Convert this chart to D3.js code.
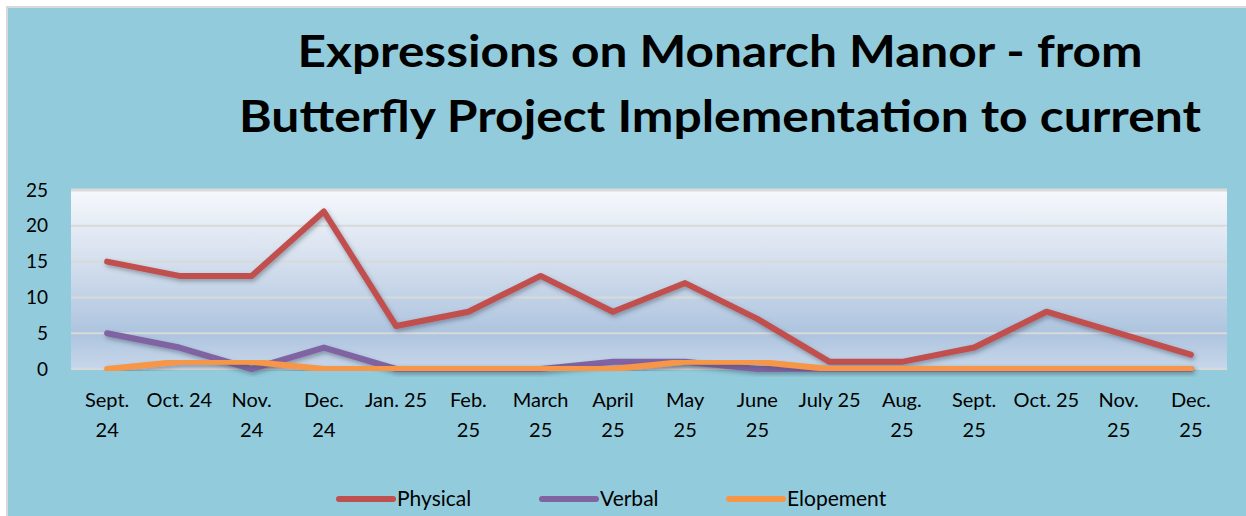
<!DOCTYPE html>
<html>
<head>
<meta charset="utf-8">
<script src="https://d3js.org/d3.v7.min.js"></script>
<style>
    body { margin: 0; background: #fff; }
    svg { display: block; }
    .tick text { font-family: Lato, "Open Sans", sans-serif; font-size: 19px; fill: #000; }
    .xlab .tick text { font-size: 20px; }
</style>
</head>
<body>
<div id="chart"></div>
<script>
// chart values
const months = ["Sept.\n24", "Oct. 24", "Nov.\n24", "Dec.\n24", "Jan. 25", "Feb.\n25", "March\n25", "April\n25",
                "May\n25", "June\n25", "July 25", "Aug.\n25", "Sept.\n25", "Oct. 25", "Nov.\n25", "Dec.\n25"]
const physical  = [15, 13, 13, 22, 6, 8, 13, 8, 12, 7, 1, 1, 3, 8, 5, 2]
const verbal    = [5, 3, 0, 3, 0, 0, 0, 1, 1, 0, 0, 0, 0, 0, 0, 0]
const elopement = [0, 1, 1, 0, 0, 0, 0, 0, 1, 1, 0, 0, 0, 0, 0, 0]
const seriesNames = ["Physical", "Verbal", "Elopement"]
const yTicks = [0, 5, 10, 15, 20, 25]
const titleLines = ["Expressions on Monarch Manor - from", "Butterfly Project Implementation to current"]

const w = 1246, h = 516
const plot = {left: 71, right: 1227, top: 190, bottom: 369}
const colours = ["#C0504D", "#8064A2", "#F79646"]
const series = [physical, verbal, elopement].map((vals, i) => ({name: seriesNames[i], vals: vals, colour: colours[i]}))

const svg = d3.select('#chart').append('svg').attr('width', w).attr('height', h)
const defs = svg.append('defs')

const grad = defs.append('linearGradient').attr('id', 'plotBg')
    .attr('x1', 0).attr('y1', 0).attr('x2', 0).attr('y2', 1)
grad.append('stop').attr('offset', '0%').attr('stop-color', '#F6F8FC')
grad.append('stop').attr('offset', '45%').attr('stop-color', '#D0DCEC')
grad.append('stop').attr('offset', '80%').attr('stop-color', '#ADC4DF')
grad.append('stop').attr('offset', '100%').attr('stop-color', '#C8D7EA')

const shadow = defs.append('filter').attr('id', 'shadow')
    .attr('x', '-5%').attr('y', '-20%').attr('width', '110%').attr('height', '140%')
shadow.append('feDropShadow').attr('dx', 1.5).attr('dy', 2.5).attr('stdDeviation', 2)
    .attr('flood-color', '#3a4a5a').attr('flood-opacity', 0.45)

// outer background
svg.append('rect').attr('x', 7).attr('y', 7).attr('width', w).attr('height', h)
    .attr('fill', '#92CCDC').attr('stroke', '#D9D9D9').attr('stroke-width', 2)

// title
svg.append('g').selectAll('text')
    .data(titleLines)
    .enter()
    .append('text')
    .attr('x', 720)
    .attr('y', (d, i) => 67 + i * 65)
    .attr('text-anchor', 'middle')
    .attr('textLength', (d, i) => i == 0 ? 845 : 962)
    .attr('lengthAdjust', 'spacingAndGlyphs')
    .style('font-family', 'Lato, "Open Sans", sans-serif')
    .style('font-weight', 'bold')
    .style('font-size', '44px')
    .text(d => d)

const xScale = d3.scaleBand().domain(months).range([plot.left, plot.right]).padding(0)
const yScale = d3.scaleLinear().domain([0, 25]).range([plot.bottom, plot.top])
const cx = d => xScale(d) + xScale.bandwidth() / 2

svg.append('rect')
    .attr('x', plot.left).attr('y', plot.top)
    .attr('width', plot.right - plot.left).attr('height', plot.bottom - plot.top)
    .attr('fill', 'url(#plotBg)')

// gridlines
svg.append('g').selectAll('line')
    .data(yTicks)
    .enter()
    .append('line')
    .attr('x1', plot.left).attr('x2', plot.right)
    .attr('y1', d => yScale(d)).attr('y2', d => yScale(d))
    .attr('stroke', '#D9D9D9')
    .attr('stroke-width', d => d == 25 ? 3 : 2)

// y axis
const yAxis = d3.axisLeft(yScale).tickValues(yTicks).tickSize(0).tickPadding(23)
svg.append('g')
    .attr('transform', 'translate(' + plot.left + ',0)')
    .call(yAxis)
    .call(g => g.select('.domain').remove())

// x axis with wrapped labels
const xAxis = d3.axisBottom(xScale).tickSize(0).tickFormat('')
const xg = svg.append('g')
    .attr('class', 'xlab')
    .attr('transform', 'translate(0,' + plot.bottom + ')')
    .call(xAxis)
xg.select('.domain').remove()
xg.selectAll('.tick text')
    .attr('y', 0).attr('dy', null)
    .each(function(d) {
        const lines = d.split('\n')
        const t = d3.select(this)
        lines.forEach((ln, i) => {
            t.append('tspan').attr('x', 0).attr('y', 38 + i * 30).text(ln)
        })
    })

// lines
const line = d3.line()
    .x((v, i) => cx(months[i]))
    .y(v => yScale(v))

svg.append('g').selectAll('path')
    .data(series)
    .enter()
    .append('path')
    .attr('d', d => line(d.vals))
    .attr('fill', 'none')
    .attr('stroke', d => d.colour)
    .attr('stroke-width', 6)
    .attr('stroke-linejoin', 'round')
    .attr('stroke-linecap', 'round')
    .attr('filter', 'url(#shadow)')

// legend
const legendX = [339, 542, 729]
const legend = svg.append('g').selectAll('g')
    .data(series)
    .enter()
    .append('g')
    .attr('transform', (d, i) => 'translate(' + legendX[i] + ',499)')
legend.append('line')
    .attr('x1', 0).attr('x2', 54)
    .attr('stroke', d => d.colour)
    .attr('stroke-width', 6)
    .attr('stroke-linecap', 'round')
legend.append('text')
    .attr('x', 58)
    .attr('y', 7)
    .style('font-family', 'Lato, "Open Sans", sans-serif')
    .style('font-size', '21px')
    .text(d => d.name)
</script>
</body>
</html>
